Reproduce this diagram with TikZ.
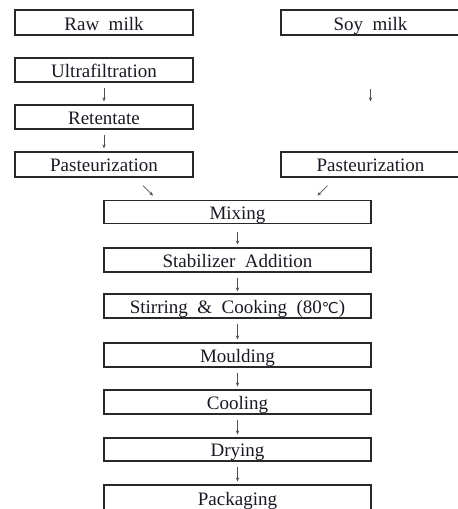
\documentclass[tikz,border=0pt]{standalone}
\usepackage{fontspec}
\setmainfont{Liberation Serif}
\newfontfamily\symfnt{DejaVu Sans}
\usetikzlibrary{arrows.meta}
\definecolor{boxline}{RGB}{40,40,40}
\definecolor{txt}{RGB}{25,25,35}
\definecolor{arrcol}{RGB}{85,80,80}
\tikzset{
  box/.style={draw=boxline, line width=1.2pt, inner sep=0pt, text=txt,
    font=\fontsize{19}{21}\selectfont, minimum height=24pt,
    text height=14pt, text depth=0pt},
  lbox/.style={box, minimum width=178pt},
  mbox/.style={box, minimum width=267pt},
  arr/.style={draw=arrcol, line width=0.8pt, -{Stealth[length=4pt,width=3.5pt]}},
}
\begin{document}
\begin{tikzpicture}[x=1pt,y=-1pt]
\useasboundingbox (0,0) rectangle (458,509);
% left column
\node[lbox, minimum height=25pt, text height=16pt] (raw) at (104,22.5) {Raw\ \ milk};
\node[lbox] (ultra) at (104,70) {Ultrafiltration};
\node[lbox] (ret) at (104,117) {Retentate};
\node[lbox, minimum height=25pt] (lpast) at (104,164.5) {Pasteurization};
% right column
\node[lbox, minimum width=179pt, minimum height=25pt, text height=16pt] (soy) at (370.5,22.5) {Soy\ \ milk};
\node[lbox, minimum width=179pt, minimum height=25pt] (rpast) at (370.5,164.5) {Pasteurization};
% middle column
\node[mbox, minimum height=23pt] (mix) at (237.5,212) {Mixing};
\node[mbox] (stab) at (237.5,260) {Stabilizer\ \ Addition};
\node[mbox] (stir) at (237.5,306) {Stirring\ \ \&\ \ Cooking\ \ (80{\symfnt\fontsize{15}{16}\selectfont ℃})};
\node[mbox] (mould) at (237.5,355) {Moulding};
\node[mbox] (cool) at (237.5,402) {Cooling};
\node[mbox, minimum height=23pt] (dry) at (237.5,449.5) {Drying};
\node[mbox, minimum height=26pt] (pack) at (237.5,498) {Packaging};
% arrows
\draw[arr] ([yshift=-5pt]ultra.south) -- ([yshift=3pt]ret.north);
\draw[arr] ([yshift=-5pt]ret.south) -- ([yshift=3pt]lpast.north);
\draw[arr, shorten <=53pt, shorten >=50pt] (soy) -- (rpast);
\draw[arr] ([xshift=39pt,yshift=-8pt]lpast.south) -- ([xshift=49pt,yshift=-18pt]lpast.south);
\draw[arr] ([xshift=-43pt,yshift=-8pt]rpast.south) -- ([xshift=-53pt,yshift=-18pt]rpast.south);
\draw[arr] ([yshift=-8pt]mix.south) -- ([yshift=3pt]stab.north);
\draw[arr] ([yshift=-5pt]stab.south) -- ([yshift=2pt]stir.north);
\draw[arr] ([yshift=-5pt]stir.south) -- ([yshift=3pt]mould.north);
\draw[arr] ([yshift=-5pt]mould.south) -- ([yshift=3pt]cool.north);
\draw[arr] ([yshift=-5pt]cool.south) -- ([yshift=3pt]dry.north);
\draw[arr] ([yshift=-5pt]dry.south) -- ([yshift=3pt]pack.north);
\end{tikzpicture}
\end{document}
